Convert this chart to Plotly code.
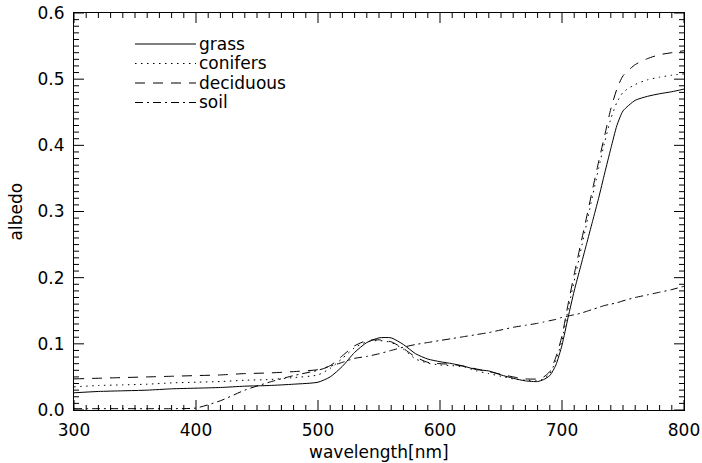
import plotly.graph_objects as go

wavelength = [300, 320, 340, 360, 380, 400, 420, 440, 460, 480, 500, 510, 520, 530, 540,
              550, 560, 570, 580, 590, 600, 610, 620, 630, 640, 650, 660, 670, 680, 685,
              690, 695, 700, 705, 710, 715, 720, 725, 730, 735, 740, 745, 750, 760, 770,
              780, 790, 800]

grass = [0.026, 0.028, 0.029, 0.030, 0.032, 0.033, 0.034, 0.036, 0.037, 0.039, 0.042, 0.050,
         0.066, 0.087, 0.102, 0.109, 0.109, 0.099, 0.085, 0.077, 0.073, 0.070, 0.066, 0.061,
         0.059, 0.053, 0.048, 0.044, 0.043, 0.046, 0.052, 0.068, 0.098, 0.140, 0.180, 0.215,
         0.250, 0.285, 0.320, 0.358, 0.395, 0.430, 0.452, 0.468, 0.474, 0.478, 0.481, 0.485]

conifers = [0.035, 0.037, 0.038, 0.039, 0.041, 0.042, 0.043, 0.045, 0.046, 0.049, 0.053, 0.063,
            0.078, 0.094, 0.103, 0.105, 0.102, 0.092, 0.077, 0.071, 0.068, 0.067, 0.065, 0.059,
            0.055, 0.051, 0.047, 0.045, 0.044, 0.047, 0.055, 0.075, 0.105, 0.152, 0.195, 0.238,
            0.280, 0.323, 0.365, 0.405, 0.440, 0.465, 0.480, 0.492, 0.499, 0.503, 0.506, 0.508]

deciduous = [0.047, 0.048, 0.049, 0.050, 0.051, 0.052, 0.053, 0.055, 0.056, 0.058, 0.061, 0.067,
             0.082, 0.097, 0.105, 0.106, 0.103, 0.093, 0.080, 0.072, 0.070, 0.069, 0.066, 0.062,
             0.058, 0.054, 0.050, 0.047, 0.047, 0.050, 0.058, 0.080, 0.112, 0.160, 0.205, 0.248,
             0.290, 0.333, 0.375, 0.415, 0.455, 0.485, 0.505, 0.522, 0.531, 0.537, 0.540, 0.543]

soil = [0.002, 0.002, 0.002, 0.002, 0.002, 0.003, 0.014, 0.030, 0.042, 0.052, 0.060, 0.066,
        0.072, 0.078, 0.081, 0.085, 0.090, 0.095, 0.099, 0.102, 0.105, 0.108, 0.111, 0.114,
        0.117, 0.121, 0.125, 0.128, 0.131, 0.133, 0.135, 0.137, 0.140, 0.142, 0.144, 0.146,
        0.149, 0.152, 0.155, 0.158, 0.160, 0.162, 0.165, 0.170, 0.174, 0.178, 0.182, 0.187]

series_names = ["grass", "conifers", "deciduous", "soil"]
series_values = [grass, conifers, deciduous, soil]
dashes = ["solid", "1.5px,4.5px", "10px,8px", "8px,4px,2px,4px"]

x_range = [300, 800]
y_range = [0.0, 0.6]
x_major = [300, 400, 500, 600, 700, 800]
y_major = [0.0, 0.1, 0.2, 0.3, 0.4, 0.5, 0.6]
y_major_text = ["0.0", "0.1", "0.2", "0.3", "0.4", "0.5", "0.6"]
x_minor_step = 10
y_minor_step = 0.01

FONT = "DejaVu Sans"
FS = 17
W, H = 702, 463
L, R, T, B = 74, 18, 13, 53
pw, ph = W - L - R, H - T - B
MAJ, MIN = 10, 5

fig = go.Figure()
for name, vals, dash in zip(series_names, series_values, dashes):
    fig.add_trace(go.Scatter(x=wavelength, y=vals, mode="lines", name=name,
                             line=dict(color="black", width=1, dash=dash, shape="spline", smoothing=0.6),
                             showlegend=False, hoverinfo="skip"))

# IDL-style inside tick marks on all four sides, drawn through the axis scales
xspan = x_range[1] - x_range[0]
yspan = y_range[1] - y_range[0]
tx, ty = [], []
n_x = int(round(xspan / x_minor_step))
for i in range(n_x + 1):
    v = x_range[0] + i * x_minor_step
    d = (MAJ if v in x_major else MIN) / ph * yspan
    tx += [v, v, None, v, v, None]
    ty += [y_range[0], y_range[0] + d, None, y_range[1], y_range[1] - d, None]
n_y = int(round(yspan / y_minor_step))
for i in range(n_y + 1):
    v = round(y_range[0] + i * y_minor_step, 4)
    d = (MAJ if any(abs(v - m) < 1e-9 for m in y_major) else MIN) / pw * xspan
    tx += [x_range[0], x_range[0] + d, None, x_range[1], x_range[1] - d, None]
    ty += [v, v, None, v, v, None]
fig.add_trace(go.Scatter(x=tx, y=ty, mode="lines", line=dict(color="black", width=1),
                         showlegend=False, hoverinfo="skip", connectgaps=False))

# IDL-style legend drawn inside the plot
leg_x0, leg_x1, leg_y = 135, 196, [44, 63.5, 83, 102.5]
for name, dash, py in zip(series_names, dashes, leg_y):
    yp = (H - B - py) / ph
    fig.add_shape(type="line", xref="paper", yref="paper",
                  x0=(leg_x0 - L) / pw, x1=(leg_x1 - L) / pw, y0=yp, y1=yp,
                  line=dict(color="black", width=1, dash=dash))
    fig.add_annotation(xref="paper", yref="paper", x=(leg_x1 + 1 - L) / pw, y=yp,
                       text=name, showarrow=False, xanchor="left", yanchor="middle",
                       font=dict(family=FONT, size=FS, color="black"))

# axis titles
fig.add_annotation(xref="paper", yref="paper", x=0.5, y=(H - B - 452) / ph,
                   text="wavelength[nm]", showarrow=False, xanchor="center", yanchor="middle",
                   font=dict(family=FONT, size=FS, color="black"))
fig.add_annotation(xref="paper", yref="paper", x=(15 - L) / pw, y=0.5, textangle=-90,
                   text="albedo", showarrow=False, xanchor="center", yanchor="middle",
                   font=dict(family=FONT, size=FS, color="black"))

fig.update_xaxes(range=x_range, tickmode="array", tickvals=x_major,
                 showgrid=False, zeroline=False, showline=True, linecolor="black", linewidth=1,
                 mirror=True, ticks="", tickfont=dict(family=FONT, size=FS, color="black"),
                 ticklabelstandoff=5)
fig.update_yaxes(range=y_range, tickmode="array", tickvals=y_major, ticktext=y_major_text,
                 showgrid=False, zeroline=False, showline=True, linecolor="black", linewidth=1,
                 mirror=True, ticks="", tickfont=dict(family=FONT, size=FS, color="black"),
                 ticklabelstandoff=5)

fig.update_layout(width=W, height=H, margin=dict(l=L, r=R, t=T, b=B, autoexpand=False),
                  template="none", paper_bgcolor="white", plot_bgcolor="white",
                  font=dict(family=FONT, size=FS, color="black"))

fig.write_html("out.html", config={"displayModeBar": False},
               post_script="document.body.style.margin='0';document.body.style.overflow='hidden';")
